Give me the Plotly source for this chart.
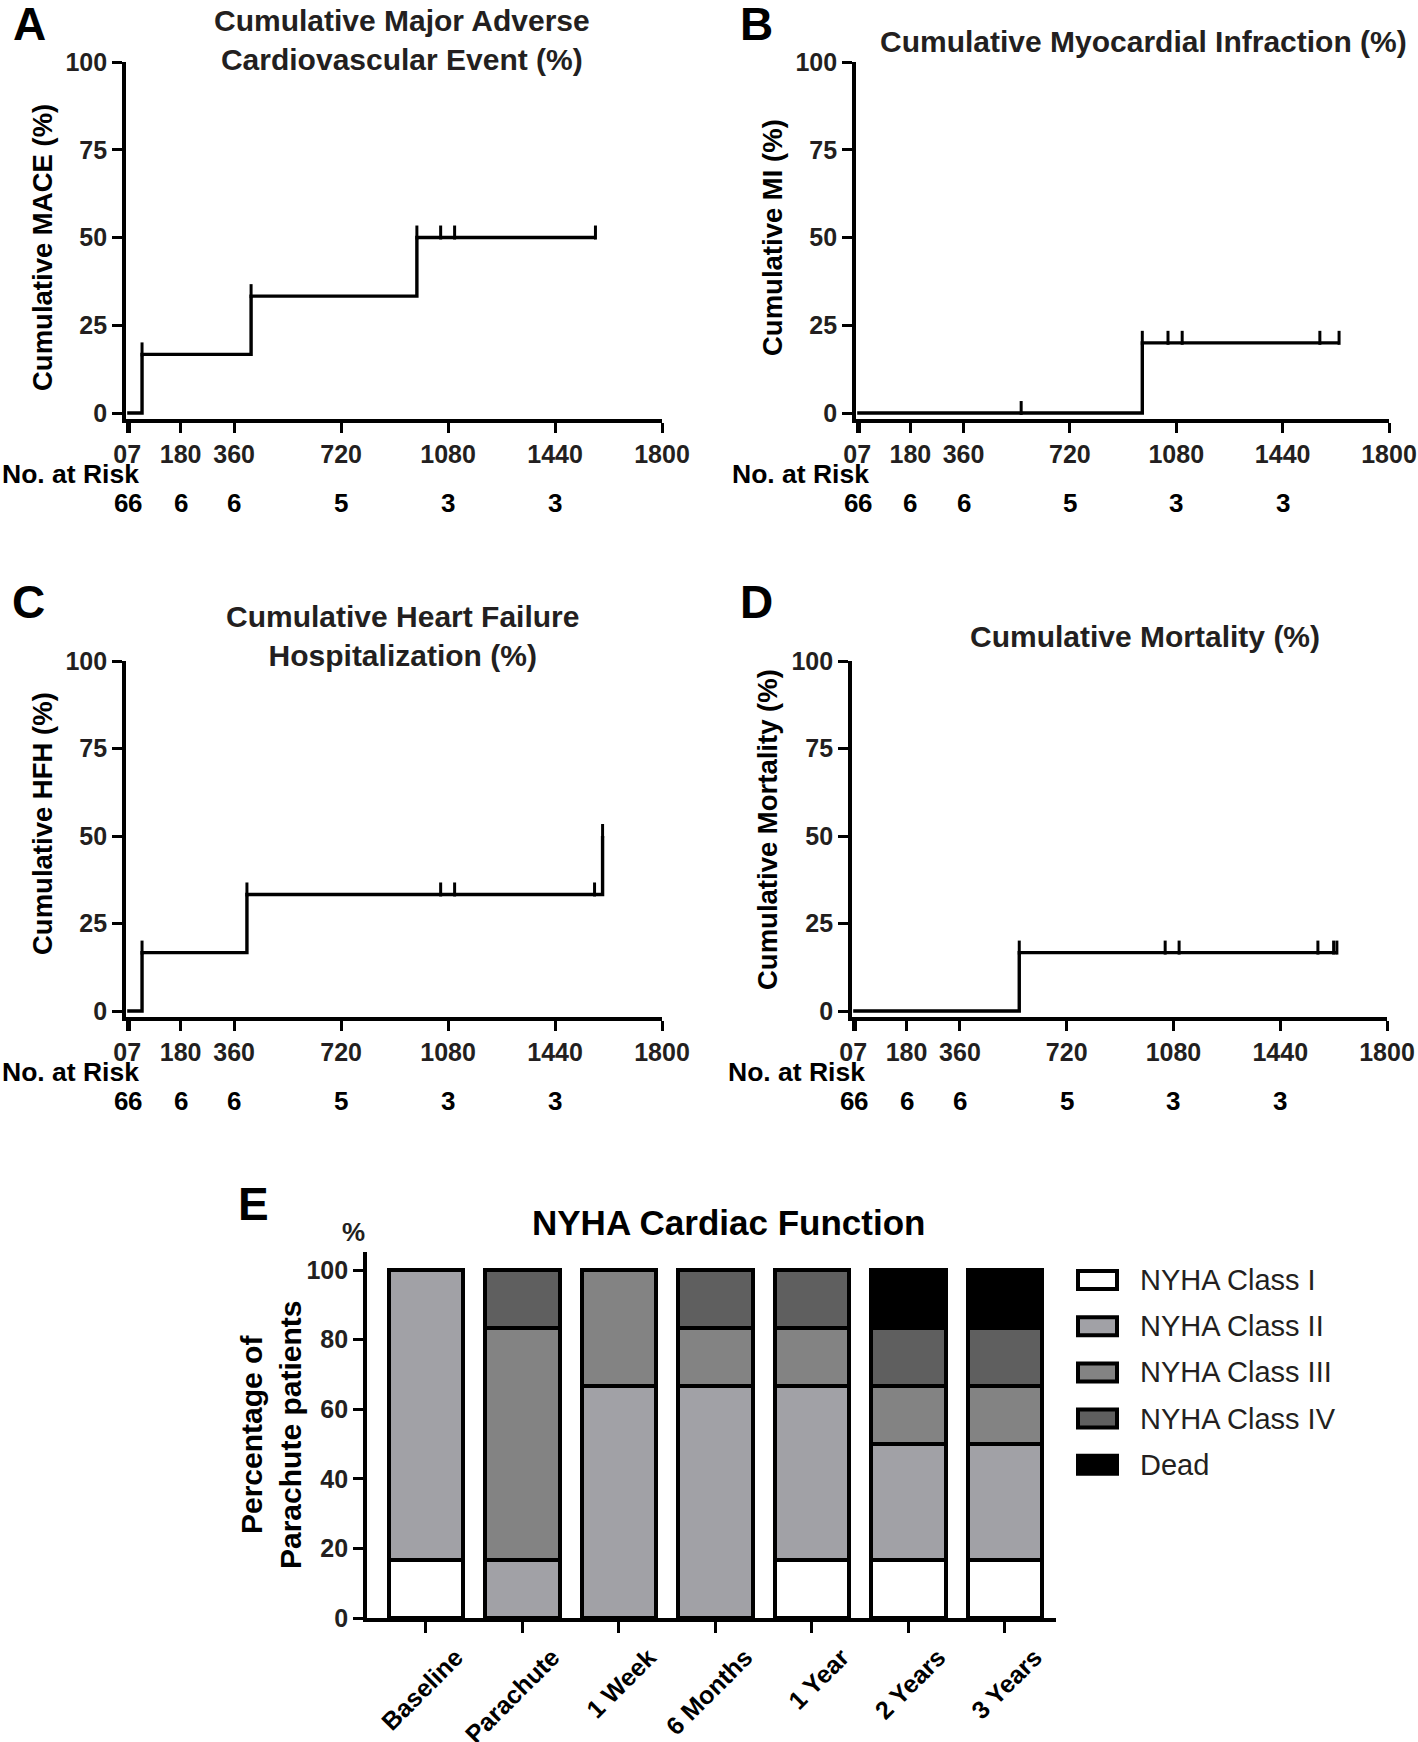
import numpy as np
import plotly.graph_objects as go

W, H = 1418, 1742
FONT = "Liberation Sans, Arial, sans-serif"
INK = "#231f20"

# Kaplan-Meier panels (days, cumulative %)
mace_days = [0, 50, 417, 975, 1576]
mace_pct = [0, 16.7, 33.3, 50, 50]
mace_ticks = [50, 417, 975, 1055, 1102, 1576]

mi_days = [0, 965, 1631]
mi_pct = [0, 20, 20]
mi_ticks = [555, 965, 1052, 1100, 1566, 1631]

hfh_days = [0, 50, 403, 1600]
hfh_pct = [0, 16.7, 33.3, 50]
hfh_ticks = [50, 403, 1055, 1102, 1573, 1600]

mort_days = [0, 560, 1631]
mort_pct = [0, 16.7, 16.7]
mort_ticks = [560, 1052, 1099, 1567, 1620, 1631]

x_tickvals = [0, 7, 180, 360, 720, 1080, 1440, 1800]
x_ticktext = ["07", "", "180", "360", "720", "1080", "1440", "1800"]
risk_days = [0, 7, 180, 360, 720, 1080, 1440]
risk_counts = [6, 6, 6, 6, 5, 3, 3]

# NYHA panel
timepoints = ["Baseline", "Parachute", "1 Week", "6 Months", "1 Year", "2 Years", "3 Years"]
nyha_1 = [16.7, 0, 0, 0, 16.7, 16.7, 16.7]
nyha_2 = [83.3, 16.7, 66.7, 66.7, 50, 33.3, 33.3]
nyha_3 = [0, 66.7, 33.3, 16.7, 16.7, 16.7, 16.7]
nyha_4 = [0, 16.7, 0, 16.7, 16.7, 16.7, 16.7]
dead = [0, 0, 0, 0, 0, 16.7, 16.7]
nyha_names = ["NYHA Class I", "NYHA Class II", "NYHA Class III", "NYHA Class IV", "Dead"]
nyha_colors = ["#ffffff", "#a1a1a6", "#838383", "#5f5f5f", "#000000"]


def px_x(p):
    return p / W


def px_y(p):
    return 1 - p / H


def note(text, x, y, size, color="black", bold=True, **kw):
    # centred text placed by pixel position on the page
    d = dict(text=text, x=px_x(x), y=px_y(y), xref="paper", yref="paper", showarrow=False,
             xanchor="center", yanchor="middle",
             font=dict(family=FONT, size=size, color=color, weight="bold" if bold else "normal"))
    d.update(kw)
    return d


fig = go.Figure()

# panel geometry in pixels: left, right, top(100%), bottom(axis line)
panels = [
    dict(key="", days=mace_days, pct=mace_pct, ticks=mace_ticks, l=126, r=662, t=62, b=419,
         title="Cumulative Major Adverse<br>Cardiovascular Event (%)", tx=402, ty=40,
         ytitle="Cumulative MACE (%)", yty=248, letter="A", lx=30, ly=24),
    dict(key="2", days=mi_days, pct=mi_pct, ticks=mi_ticks, l=856, r=1389, t=62, b=419,
         title="Cumulative Myocardial Infraction (%)", tx=1143, ty=41,
         ytitle="Cumulative MI (%)", yty=238, letter="B", lx=757, ly=24),
    dict(key="3", days=hfh_days, pct=hfh_pct, ticks=hfh_ticks, l=126, r=662, t=661, b=1017,
         title="Cumulative Heart Failure<br>Hospitalization (%)", tx=402, ty=636,
         ytitle="Cumulative HFH (%)", yty=824, letter="C", lx=28, ly=602),
    dict(key="4", days=mort_days, pct=mort_pct, ticks=mort_ticks, l=852, r=1387, t=661, b=1017,
         title="Cumulative Mortality (%)", tx=1145, ty=636,
         ytitle="Cumulative Mortality (%)", yty=830, letter="D", lx=757, ly=602),
]

y_bottom = -1.7
annotations = []
for p in panels:
    xa = "x" + p["key"]
    ya = "y" + p["key"]
    px_per_pct = (p["b"] - p["t"]) / (100 - y_bottom)
    fig.add_trace(go.Scatter(
        x=p["days"], y=p["pct"], mode="lines", line_shape="hv",
        line=dict(color="black", width=3.4), xaxis=xa, yaxis=ya,
        showlegend=False, cliponaxis=False, hoverinfo="skip"))
    # censor / event ticks sit on the curve and point upward
    levels = [p["pct"][np.searchsorted(p["days"], d, side="right") - 1] for d in p["ticks"]]
    fig.add_trace(go.Scatter(
        x=p["ticks"], y=[v + 5 / px_per_pct for v in levels], mode="markers",
        marker=dict(symbol="line-ns", size=10, line=dict(color="black", width=3)),
        xaxis=xa, yaxis=ya, showlegend=False, cliponaxis=False, hoverinfo="skip"))

    axis_x = dict(domain=[px_x(p["l"]), px_x(p["r"])], range=[-4, 1800], anchor=ya,
                  showline=True, linecolor="black", linewidth=3.8, ticks="outside",
                  ticklen=10, tickwidth=3, tickcolor="black", tickvals=x_tickvals,
                  ticktext=x_ticktext, showgrid=False, zeroline=False, automargin=False,
                  ticklabeloverflow="allow",
                  tickfont=dict(family=FONT, size=25, color=INK, weight="bold"))
    axis_y = dict(domain=[px_y(p["b"]), px_y(p["t"])], range=[y_bottom, 100], anchor=xa,
                  showline=True, linecolor="black", linewidth=3.8, ticks="outside",
                  ticklen=10, tickwidth=3, tickcolor="black", tickvals=[0, 25, 50, 75, 100],
                  showgrid=False, zeroline=False, automargin=False,
                  tickfont=dict(family=FONT, size=25, color=INK, weight="bold"))
    fig.layout["xaxis" + p["key"]] = axis_x
    fig.layout["yaxis" + p["key"]] = axis_y

    annotations.append(note(p["title"], p["tx"], p["ty"], 30, INK))
    annotations.append(note(p["ytitle"], p["l"] - 84, p["yty"], 27.5, textangle=-90))
    annotations.append(note(p["letter"], p["lx"], p["ly"], 46))
    annotations.append(note("No. at Risk", p["l"] + 15, p["b"] + 55, 26.5, xanchor="right"))
    for d, n in zip(risk_days, risk_counts):
        anchor, shift = "center", 0
        if d == 0:
            anchor, shift = "right", 3
        elif d == 7:
            anchor, shift = "left", -3
        annotations.append(dict(text=str(n), x=d, xref=xa, y=px_y(p["b"] + 84), yref="paper",
                                xanchor=anchor, xshift=shift, yanchor="middle", showarrow=False,
                                font=dict(family=FONT, size=26, color="black", weight="bold")))

# NYHA stacked bars
for vals, name, color in zip([nyha_1, nyha_2, nyha_3, nyha_4, dead], nyha_names, nyha_colors):
    fig.add_trace(go.Bar(
        x=list(range(len(timepoints))), y=vals, name=name, xaxis="x5", yaxis="y5",
        marker=dict(color=color, line=dict(color="black", width=4)), showlegend=False))

fig.update_layout(
    barmode="stack", bargap=0.23,
    xaxis5=dict(domain=[px_x(367), px_x(1056)], range=[-0.61, 6.53], anchor="y5",
                tickvals=list(range(len(timepoints))), ticktext=timepoints, tickangle=-45,
                showline=True, linecolor="black", linewidth=3.8, ticks="outside", ticklen=11,
                tickwidth=3, tickcolor="black", showgrid=False, zeroline=False, automargin=False,
                ticklabelshift=30, ticklabeloverflow="allow",
                tickfont=dict(family=FONT, size=25, color="black", weight="bold")),
    yaxis5=dict(domain=[px_y(1618), px_y(1252)], range=[0, 105.2], anchor="x5",
                tickvals=[0, 20, 40, 60, 80, 100], showline=True, linecolor="black", linewidth=3.8,
                ticks="outside", ticklen=10, tickwidth=3, tickcolor="black", showgrid=False,
                zeroline=False, automargin=False,
                tickfont=dict(family=FONT, size=25, color=INK, weight="bold")),
)

annotations.append(note("NYHA Cardiac Function", 728, 1222, 35))
annotations.append(note("E", 253, 1204, 46))
annotations.append(note("%", 353, 1232, 26, INK))
annotations.append(note("Percentage of<br>Parachute patients", 271, 1435, 30, textangle=-90))

# legend drawn as boxes + labels
shapes = []
for i, (name, color) in enumerate(zip(nyha_names, nyha_colors)):
    cy = 1280 + i * 46.2
    shapes.append(dict(type="rect", xref="paper", yref="paper",
                       x0=px_x(1078), x1=px_x(1117), y0=px_y(cy + 9), y1=px_y(cy - 9),
                       fillcolor=color, line=dict(color="black", width=4)))
    annotations.append(note(name, 1138, cy, 29, INK, bold=False, xanchor="left"))

fig.update_layout(
    width=W, height=H, margin=dict(l=0, r=0, t=0, b=0, pad=0, autoexpand=False),
    paper_bgcolor="white", plot_bgcolor="white",
    annotations=annotations, shapes=shapes, showlegend=False,
)

# the page's default body margin would push the figure 8px off the window
fig.write_html("out.html", config={"displayModeBar": False},
               post_script="document.body.style.margin = '0px';")
